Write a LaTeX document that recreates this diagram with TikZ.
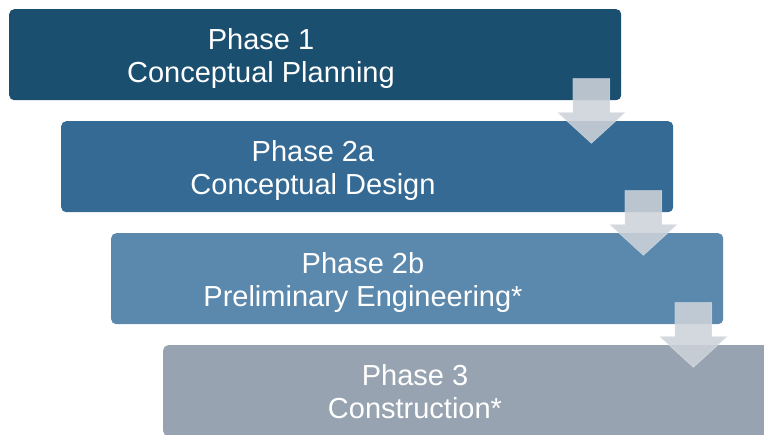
\documentclass[tikz,border=0pt]{standalone}
\usepackage{fontspec}
\setmainfont{Liberation Sans}
\definecolor{phaseone}{HTML}{1A4F6F}
\definecolor{phasetwoa}{HTML}{346A94}
\definecolor{phasetwob}{HTML}{5B88AD}
\definecolor{phasethree}{HTML}{97A3B1}
\definecolor{arrowgray}{HTML}{CDD2D9}

\begin{document}
\begin{tikzpicture}[x=1pt, y=-1pt,
    phasebox/.style={rounded corners=5pt, inner sep=0pt, minimum width=612pt, minimum height=91pt, anchor=north west},
    phasetext/.style={text=white, font=\fontsize{29}{33}\selectfont, align=center, anchor=north, inner sep=0pt},
    downarrow/.style={fill=arrowgray, fill opacity=0.88, draw=white, draw opacity=0.35, line width=0.6pt}]
        \useasboundingbox (0,0) rectangle (764,435);

        \node[phasebox, fill=phaseone]   (p1) at (9,9)     {};
        \node[phasebox, fill=phasetwoa]  (p2) at (61,121)  {};
        \node[phasebox, fill=phasetwob]  (p3) at (111,233) {};
        \node[phasebox, fill=phasethree] (p4) at (163,345) {};

        \node[phasetext] (t1) at ([xshift=252pt, yshift=26.5pt]p1.west) {Phase 1\\Conceptual Planning};
        \node[phasetext] (t2) at ([xshift=252pt, yshift=26.5pt]p2.west) {Phase 2a\\Conceptual Design};
        \node[phasetext] (t3) at ([xshift=252pt, yshift=26.5pt]p3.west) {Phase 2b\\Preliminary Engineering*};
        \node[phasetext] (t4) at ([xshift=252pt, yshift=26.5pt]p4.west) {Phase 3\\Construction*};

        % arrows between the phases
        \foreach \i in {1,2,3} {
            \coordinate (a\i) at ([xshift=-30pt, yshift=22pt]p\i.south east);
            \draw[downarrow] ([xshift=-18.5pt]a\i) -- ++(37,0) -- ++(0,34) -- ++(15.5,0)
                -- ++(-34,31) -- ++(-34,-31) -- ++(15.5,0) -- cycle;
        }

    \end{tikzpicture}
\end{document}
